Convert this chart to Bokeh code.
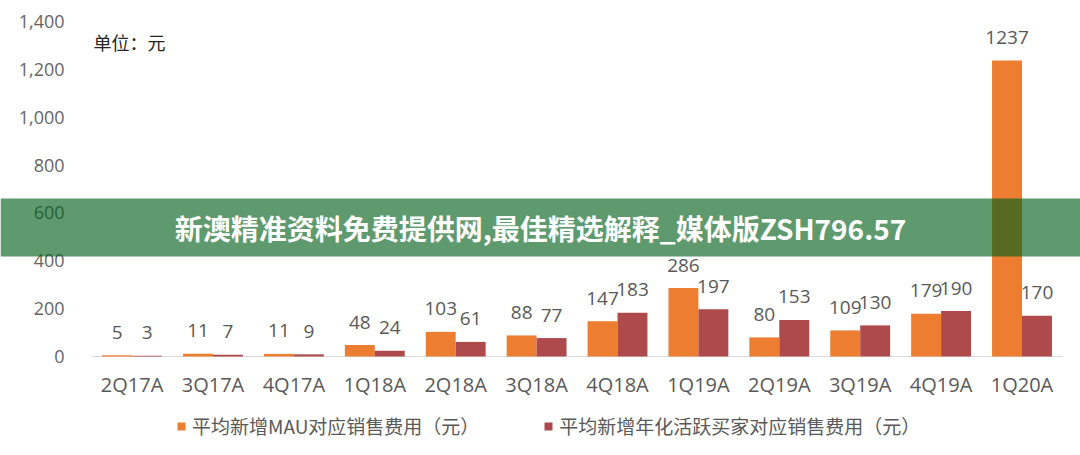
from bokeh.plotting import figure
from bokeh.models import (ColumnDataSource, Range1d, FixedTicker, NumeralTickFormatter,
                          BoxAnnotation, Label, Legend, LegendItem)
from bokeh.transform import dodge
from bokeh.core.properties import value
from bokeh.embed import file_html
from bokeh.resources import INLINE

categories = ["2Q17A", "3Q17A", "4Q17A", "1Q18A", "2Q18A", "3Q18A",
              "4Q18A", "1Q19A", "2Q19A", "3Q19A", "4Q19A", "1Q20A"]
mau_cost = [5, 11, 11, 48, 103, 88, 147, 286, 80, 109, 179, 1237]
buyer_cost = [3, 7, 9, 24, 61, 77, 183, 197, 153, 130, 190, 170]
y_ticks = [0, 200, 400, 600, 800, 1000, 1200, 1400]
series_names = ["平均新增MAU对应销售费用（元）", "平均新增年化活跃买家对应销售费用（元）"]
unit_text = "单位：元"
banner_text = "新澳精准资料免费提供网,最佳精选解释_媒体版ZSH796.57"

ORANGE = "#ED7D31"
RED = "#AE4A4C"
GRAY = "#595959"
CJK = "Noto Sans CJK SC"

W, H = 1080, 455
idx = list(range(len(categories)))
src = ColumnDataSource(dict(
    idx=idx, mau=mau_cost, buyer=buyer_cost,
    mau_t=[str(v) for v in mau_cost], buyer_t=[str(v) for v in buyer_cost],
))

# pixel geometry of the plotting area inside the full-canvas frame
cat_px = 80.9          # width of one category
first_center = 131.6   # x pixel of first category centre
zero_px = 356          # y pixel of value 0
top_px = 21            # y pixel of value 1400
ppu = (zero_px - top_px) / 1400.0

x_range = Range1d(-first_center / cat_px, (W - first_center) / cat_px)
y_range = Range1d(-(H - zero_px) / ppu, zero_px / ppu)

p = figure(width=W, height=H, x_range=x_range, y_range=y_range,
           output_backend="svg", toolbar_location=None,
           min_border_left=0, min_border_right=0, min_border_top=0, min_border_bottom=0)
p.outline_line_color = None
p.background_fill_color = "white"
p.border_fill_color = "white"
p.xgrid.grid_line_color = None
p.ygrid.grid_line_color = None

# baseline under the bars, spanning the category band
p.segment(x0=[-0.5], x1=[len(categories) - 0.5], y0=[0], y1=[0],
          line_color="#D9D9D9", line_width=1)

bw = 0.37
r1 = p.vbar(x=dodge("idx", -bw / 2), top="mau", width=bw, source=src,
            fill_color=ORANGE, line_color=None)
r2 = p.vbar(x=dodge("idx", bw / 2), top="buyer", width=bw, source=src,
            fill_color=RED, line_color=None)

for col, txt, off in (("mau", "mau_t", -bw / 2), ("buyer", "buyer_t", bw / 2)):
    p.text(x=dodge("idx", off), y=col, text=txt, source=src,
           text_align="center", text_baseline="middle", y_offset=-23,
           text_font=value("Open Sans"), text_font_size="19px", text_color=GRAY)

# axes, fixed inside the frame
p.yaxis.fixed_location = -0.5
p.yaxis.ticker = FixedTicker(ticks=y_ticks)
p.yaxis.formatter = NumeralTickFormatter(format="0,0")
p.yaxis.axis_line_color = None
p.yaxis.major_tick_line_color = None
p.yaxis.major_tick_out = 0
p.yaxis.major_tick_in = 0
p.yaxis.minor_tick_line_color = None
p.yaxis.major_label_standoff = 27
p.yaxis.major_label_text_font = "Open Sans"
p.yaxis.major_label_text_font_size = "18px"
p.yaxis.major_label_text_color = "#666666"

p.xaxis.fixed_location = 0
p.xaxis.ticker = FixedTicker(ticks=idx)
p.xaxis.major_label_overrides = {i: c for i, c in zip(idx, categories)}
p.xaxis.axis_line_color = None
p.xaxis.major_tick_line_color = None
p.xaxis.major_tick_out = 0
p.xaxis.major_tick_in = 0
p.xaxis.minor_tick_line_color = None
p.xaxis.major_label_standoff = 14
p.xaxis.major_label_text_font = "Open Sans"
p.xaxis.major_label_text_font_size = "20px"
p.xaxis.major_label_text_color = GRAY

# unit label
p.add_layout(Label(x=93, y=H - 41, x_units="screen", y_units="screen", text=unit_text,
                   text_font=CJK, text_font_size="18px", text_color="#262626",
                   text_baseline="middle"))

# legend
legend = Legend(items=[LegendItem(label=series_names[0], renderers=[r1]),
                       LegendItem(label=series_names[1], renderers=[r2])],
                orientation="horizontal", location=(176, 16),
                glyph_width=10, glyph_height=10, label_standoff=6, spacing=64,
                padding=0, margin=0, border_line_color=None, background_fill_alpha=0,
                label_text_font=CJK, label_text_font_size="19px", label_text_color=GRAY)
p.add_layout(legend, "center")

# banner overlay
p.add_layout(BoxAnnotation(bottom=H - 256, top=H - 198,
                           bottom_units="screen", top_units="screen",
                           fill_color="rgb(0,95,24)", fill_alpha=0.63, line_color=None))
p.add_layout(Label(x=W / 2, y=H - 227, x_units="screen", y_units="screen", text=banner_text,
                   text_align="center", text_baseline="middle", text_font=CJK,
                   text_font_style="bold", text_font_size="28px", text_color="white"))

open("out.html", "w").write(file_html(p, INLINE))
